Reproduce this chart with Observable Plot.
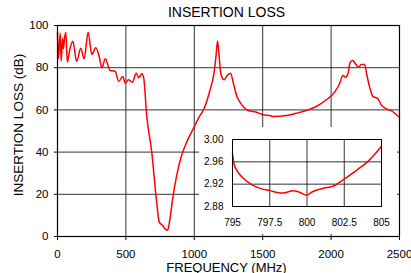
<!DOCTYPE html>
<html>
<head>
<meta charset="utf-8">
<script src="https://cdn.jsdelivr.net/npm/d3@7"></script>
<script src="https://cdn.jsdelivr.net/npm/@observablehq/plot@0.6"></script>
<style>
  html, body { margin: 0; padding: 0; background: white; }
  #wrap { position: relative; width: 411px; height: 273px; overflow: hidden; }
  #inset { position: absolute; left: 199px; top: 127px; }
</style>
</head>
<body>
<div id="wrap"><div id="main"></div><div id="inset"></div></div>
<script>
// Main chart data
const freq = [0, 7, 20, 27, 37, 44, 51, 61, 72, 88, 112, 140, 170, 195, 224, 251, 280, 306, 324, 350, 384, 421, 448, 477, 496, 518, 547, 576, 594, 616, 630, 652, 689, 720, 744, 769, 786, 805, 822, 842, 871, 907, 944, 992, 1041, 1065, 1114, 1143, 1158, 1170, 1182, 1194, 1218, 1240, 1265, 1284, 1309, 1345, 1393, 1455, 1503, 1552, 1576, 1673, 1746, 1819, 1892, 1965, 2026, 2062, 2086, 2106, 2123, 2140, 2159, 2179, 2201, 2221, 2245, 2262, 2282, 2305, 2342, 2366, 2403, 2439, 2476, 2500];
const loss = [96.7, 84.2, 96.5, 83.0, 94.0, 89.0, 93.7, 96.8, 82.6, 88.0, 92.5, 83.0, 89.2, 84.2, 96.8, 86.3, 89.4, 85.0, 80.0, 84.2, 78.7, 78.3, 73.5, 75.8, 72.7, 74.3, 73.1, 77.4, 75.2, 77.1, 75.2, 57.3, 40.0, 19.4, 6.8, 5.2, 3.6, 3.0, 8.4, 17.9, 28.9, 38.4, 44.7, 51.0, 57.3, 59.7, 69.2, 77.1, 85.0, 92.6, 85.0, 77.1, 74.3, 76.3, 77.4, 73.1, 66.8, 62.6, 59.7, 58.9, 57.7, 57.3, 56.9, 57.3, 58.4, 59.7, 61.6, 64.8, 68.4, 72.4, 76.3, 75.5, 77.1, 82.6, 83.4, 81.8, 80.2, 81.5, 81.5, 76.3, 70.8, 66.4, 65.3, 62.4, 60.5, 59.7, 57.8, 56.3];
const xTicks = [0, 500, 1000, 1500, 2000, 2500];
const yTicks = [0, 20, 40, 60, 80, 100];

// Inset data
const insetFreq = [795, 795.1, 795.33, 795.67, 796.23, 796.9, 797.57, 798.02, 798.36, 798.7, 799.03, 799.36, 799.7, 799.99, 800.26, 800.7, 801.15, 801.71, 802.05, 802.72, 803.39, 804.06, 804.62, 805];
const insetLoss = [2.9745, 2.9565, 2.943, 2.932, 2.920, 2.912, 2.908, 2.905, 2.904, 2.906, 2.908, 2.907, 2.903, 2.900, 2.905, 2.910, 2.913, 2.916, 2.921, 2.933, 2.946, 2.960, 2.976, 2.988];
const insetXTicks = [795, 797.5, 800, 802.5, 805];
const insetYTicks = [2.88, 2.92, 2.96, 3.00];

const title = "INSERTION LOSS";
const xLabel = "FREQUENCY (MHz)";
const yLabel = "INSERTION LOSS (dB)";

const font = "'Liberation Sans', Arial, Helvetica, sans-serif";
const mainData = freq.map((f, i) => ({f, l: loss[i]}));
const insetData = insetFreq.map((f, i) => ({f, l: insetLoss[i]}));

const main = Plot.plot({
  width: 411, height: 273,
  marginLeft: 57, marginRight: 12, marginTop: 25, marginBottom: 37,
  style: {fontFamily: font, fontSize: "11.5px", color: "black", background: "white", overflow: "visible"},
  x: {domain: [0, 2500]},
  y: {domain: [0, 100]},
  marks: [
    Plot.ruleX(xTicks.slice(1, -1), {stroke: "#111", strokeOpacity: 0.85}),
    Plot.ruleY(yTicks.slice(1, -1), {stroke: "#111", strokeOpacity: 0.85}),
    Plot.line(mainData, {x: "f", y: "l", stroke: "#ff0000", strokeWidth: 1.5, curve: "monotone-x"}),
    Plot.frame({stroke: "black", strokeWidth: 1.2}),
    Plot.axisX({ticks: xTicks, tickFormat: d => String(d), tickSize: 4, tickPadding: 9.5, label: null, fontSize: 11.5}),
    Plot.axisY({ticks: yTicks, tickFormat: d => String(d), tickSize: 3, tickPadding: 6, label: null, fontSize: 11.5}),
    Plot.text([title], {text: d => d, frameAnchor: "top", textAnchor: "middle", lineAnchor: "middle", dx: -2, dy: -12.5, fontSize: 14}),
    Plot.text([xLabel], {text: d => d, frameAnchor: "bottom", textAnchor: "middle", lineAnchor: "middle", dx: -2, dy: 31.5, fontSize: 13}),
    Plot.text([yLabel], {text: d => d, frameAnchor: "left", textAnchor: "middle", lineAnchor: "middle", rotate: -90, dx: -39, dy: -6, fontSize: 13.5})
  ]
});
document.getElementById("main").appendChild(main);

const inset = Plot.plot({
  width: 198, height: 107,
  marginLeft: 33, marginRight: 16, marginTop: 12, marginBottom: 28,
  style: {fontFamily: font, fontSize: "10px", color: "black", background: "white"},
  x: {domain: [795, 805]},
  y: {domain: [2.88, 3.00]},
  marks: [
    Plot.ruleX(insetXTicks.slice(1, -1), {stroke: "#111", strokeOpacity: 0.85}),
    Plot.ruleY(insetYTicks.slice(1, -1), {stroke: "#111", strokeOpacity: 0.85}),
    Plot.line(insetData, {x: "f", y: "l", stroke: "#ff0000", strokeWidth: 1.5, curve: "monotone-x"}),
    Plot.frame({stroke: "black", strokeWidth: 1}),
    Plot.axisX({ticks: insetXTicks, tickFormat: d => String(d), tickSize: 0, tickPadding: 12, label: null, fontSize: 10}),
    Plot.axisY({ticks: insetYTicks, tickFormat: d => d.toFixed(2), tickSize: 0, tickPadding: 9, label: null, fontSize: 10})
  ]
});
document.getElementById("inset").appendChild(inset);
</script>
</body>
</html>
